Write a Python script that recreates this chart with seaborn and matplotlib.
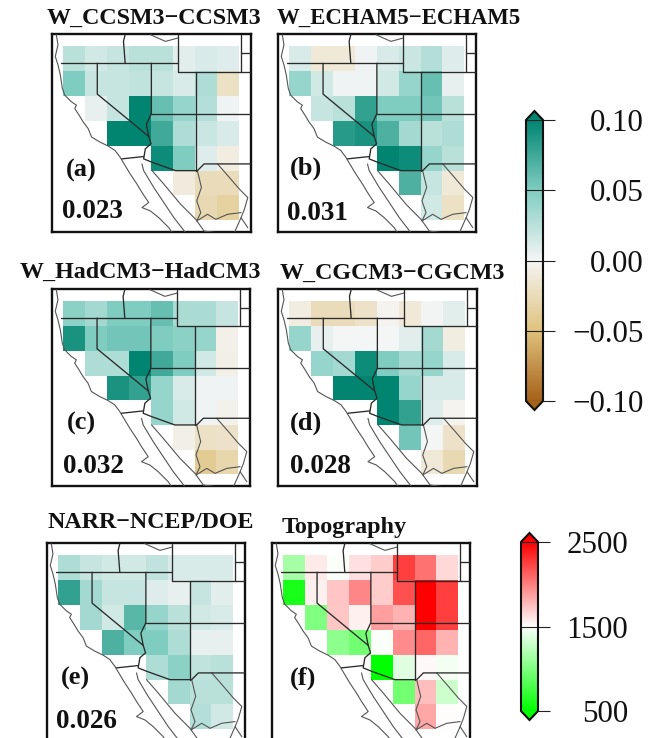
import numpy as np
import matplotlib
matplotlib.use('Agg')
import matplotlib.pyplot as plt
import seaborn as sns
from matplotlib.cm import ScalarMappable
from matplotlib.colors import LinearSegmentedColormap, Normalize

sns.set_theme(style='white')
plt.rcParams['font.family'] = ['Liberation Serif', 'DejaVu Serif']

W, H = 654, 738
n = np.nan

# grid values, 7 rows x 8 columns, north to south
ccsm3 = [[0.025, 0.015, 0.020, 0.025, 0.025, 0.008, 0.012, 0.010],
         [0.050, 0.020, 0.020, 0.022, 0.020, 0.012, 0.030, -0.020],
         [n, 0.006, 0.020, 0.100, 0.060, 0.040, 0.028, 0.002],
         [n, n, 0.100, 0.100, 0.075, 0.030, 0.018, 0.012],
         [n, n, n, n, 0.095, 0.050, 0.010, -0.008],
         [n, n, n, n, n, -0.010, -0.025, -0.025],
         [n, n, n, n, n, n, -0.028, -0.035]]
echam5 = [[0.012, -0.012, -0.012, 0.002, 0.012, 0.018, 0.028, 0.010],
          [0.040, 0.015, 0.002, 0.002, 0.015, 0.040, 0.060, 0.006],
          [n, 0.020, 0.025, 0.080, 0.050, 0.050, 0.055, 0.025],
          [n, n, 0.085, 0.090, 0.070, 0.035, 0.025, 0.030],
          [n, n, n, n, 0.100, 0.095, 0.040, 0.025],
          [n, n, n, n, n, 0.070, 0.020, -0.012],
          [n, n, n, n, n, n, 0.015, -0.020]]
hadcm3 = [[0.045, 0.035, 0.050, 0.050, 0.060, 0.032, 0.032, 0.020],
          [0.090, 0.050, 0.055, 0.055, 0.050, 0.045, 0.040, -0.005],
          [n, 0.030, 0.030, 0.100, 0.075, 0.050, 0.015, -0.006],
          [n, n, 0.090, 0.080, 0.040, 0.012, 0.002, 0.002],
          [n, n, n, n, 0.040, 0.015, 0.002, -0.004],
          [n, n, n, n, n, -0.006, -0.020, -0.018],
          [n, n, n, n, n, n, -0.040, -0.030]]
cgcm3 = [[-0.008, -0.025, -0.025, -0.018, -0.002, -0.012, 0.001, 0.008],
         [0.040, 0.006, 0.000, 0.000, 0.000, 0.008, 0.035, -0.008],
         [n, 0.040, 0.035, 0.095, 0.050, 0.035, 0.040, 0.012],
         [n, n, 0.100, 0.100, 0.100, 0.040, 0.012, 0.012],
         [n, n, n, n, 0.100, 0.080, 0.010, -0.002],
         [n, n, n, n, n, 0.055, 0.000, -0.018],
         [n, n, n, n, n, n, -0.012, -0.028]]
narr = [[0.030, 0.020, 0.015, 0.015, 0.022, 0.012, 0.012, 0.012],
        [0.080, 0.035, 0.020, 0.020, 0.010, 0.006, 0.020, 0.008],
        [n, 0.035, 0.015, 0.065, 0.040, 0.025, 0.015, 0.012],
        [n, n, 0.070, 0.050, 0.050, 0.030, 0.006, 0.006],
        [n, n, n, n, 0.030, 0.045, 0.022, 0.025],
        [n, n, n, n, n, 0.035, 0.025, 0.025],
        [n, n, n, n, n, n, 0.028, 0.015]]
topo = [[1150, 1580, 1480, 1620, 1700, 2250, 2050, 1650],
        [600, 1560, 1730, 1970, 1700, 2180, 2500, 2250],
        [n, 1000, 1720, 1560, 1880, 1800, 2500, 2250],
        [n, n, 1050, 950, 1480, 1950, 2100, 1800],
        [n, n, n, n, 500, 1380, 1530, 1450],
        [n, n, n, n, n, 950, 1750, 1300],
        [n, n, n, n, n, n, 1850, 1510]]

titles = ['W_CCSM3\u2212CCSM3', 'W_ECHAM5\u2212ECHAM5', 'W_HadCM3\u2212HadCM3',
          'W_CGCM3\u2212CGCM3', 'NARR\u2212NCEP/DOE', 'Topography']
letters = ['(a)', '(b)', '(c)', '(d)', '(e)', '(f)']
scores = ['0.023', '0.031', '0.032', '0.028', '0.026', '']
fields = [ccsm3, echam5, hadcm3, cgcm3, narr, topo]

# panel boxes in pixels: left, top, right, bottom
boxes = [(52, 34, 251, 232), (278, 34, 476, 232), (52, 289, 250, 486),
         (278, 289, 477, 486), (47, 543, 245, 741), (272, 543, 470, 741)]
title_pos = [(47, 18), (277, 18), (20, 272), (280, 273), (48, 522), (282, 527)]
title_size = [17.3, 16.4, 17.3, 17.3, 17.3, 17.4]
letter_pos = [(66, 170), (290, 168), (67, 423), (290, 423), (61, 678), (290, 678)]
score_pos = [(62, 212), (287, 213), (63, 467), (290, 467), (56, 721), (0, 0)]

# map outlines
coast = [
    [(50, 105), (55, 135), (47, 170), (55, 195), (62, 225), (68, 265), (75, 285), (95, 305),
     (110, 315), (105, 325), (118, 345), (130, 365), (145, 385), (155, 410), (180, 425),
     (205, 437), (225, 450), (240, 470), (255, 495), (270, 520), (290, 550), (305, 575),
     (325, 605), (305, 620), (330, 630), (355, 650), (385, 680), (395, 695)],
    [(305, 490), (310, 510), (340, 560), (360, 590), (400, 650), (435, 695)],
    [(335, 510), (370, 550), (420, 610), (465, 655), (490, 690), (530, 695)],
    [(530, 490), (565, 530), (595, 565), (620, 590), (610, 625), (600, 650), (620, 680)],
    [(470, 510), (482, 560), (468, 600), (480, 635), (468, 660), (500, 640), (525, 655),
     (560, 640), (600, 635)],
    [(600, 650), (580, 695)],
    [(330, 105), (375, 125), (412, 115)],
]
borders = [
    [(65, 190), (412, 190)],
    [(255, 105), (250, 125), (255, 190)],
    [(412, 105), (412, 215), (632, 215)],
    [(600, 105), (600, 215)],
    [(600, 160), (632, 160)],
    [(172, 190), (172, 282), (325, 408)],
    [(333, 190), (333, 340), (318, 372), (325, 408), (332, 430), (315, 445), (310, 475),
     (335, 485), (405, 510), (470, 510), (490, 490), (632, 490)],
    [(333, 340), (632, 340)],
    [(465, 215), (465, 510)],
    [(245, 475), (310, 468)],
]


def trace_to_cells(line):
    pts = np.array(line, dtype=float)
    return (pts[:, 0] - 70) / 65.6, (pts[:, 1] - 140) / 74.0


def axes_from_px(left, top, right, bottom):
    return fig.add_axes([left / W, 1 - bottom / H, (right - left) / W, (bottom - top) / H])


brbg = LinearSegmentedColormap.from_list(
    'brbg5', ['#a6611a', '#dfc27d', '#f5f5f5', '#80cdc1', '#018571'])
gwr = LinearSegmentedColormap.from_list('gwr', ['#00ff00', '#ffffff', '#ff0000'])

fig = plt.figure(figsize=(W / 100, H / 100), dpi=100)

for i, field in enumerate(fields):
    ax = axes_from_px(*boxes[i])
    is_topo = field is topo
    sns.heatmap(np.array(field, dtype=float), ax=ax, cbar=False, xticklabels=False,
                yticklabels=False, cmap=gwr if is_topo else brbg,
                vmin=500 if is_topo else -0.1, vmax=2500 if is_topo else 0.1)
    for line in coast:
        ax.plot(*trace_to_cells(line), color='#555555', lw=0.8, zorder=3)
    for line in borders:
        ax.plot(*trace_to_cells(line), color='#2a2a2a', lw=0.95, zorder=4)
    ax.set_xlim(-0.5, 8.53)
    ax.set_ylim(7.47, -0.5)
    for sp in ax.spines.values():
        sp.set_visible(True)
        sp.set_color('#111111')
        sp.set_linewidth(1.7)

    fig.text(title_pos[i][0] / W, 1 - title_pos[i][1] / H, titles[i], fontsize=title_size[i],
             fontweight='bold', va='center', ha='left', color='#111111')
    fig.text(letter_pos[i][0] / W, 1 - letter_pos[i][1] / H, letters[i], fontsize=19,
             fontweight='bold', va='center', ha='left', color='#111111')
    if scores[i]:
        fig.text(score_pos[i][0] / W, 1 - score_pos[i][1] / H, scores[i], fontsize=19.5,
                 fontweight='bold', va='center', ha='left', color='#111111')


def add_bar(box, cmap, vmin, vmax, ticks, labels, frac, label_x):
    cax = axes_from_px(*box)
    sm = ScalarMappable(norm=Normalize(vmin, vmax), cmap=cmap)
    cb = fig.colorbar(sm, cax=cax, extend='both', extendfrac=frac, extendrect=False)
    cb.outline.set_linewidth(1.5)
    cb.outline.set_edgecolor('#111111')
    cb.set_ticks(ticks)
    cb.minorticks_off()
    tick_len = 8.6
    pad = (label_x - box[2]) * 0.72 - tick_len
    cb.ax.tick_params(length=tick_len, width=0.8, color='#222222', pad=pad)
    cb.ax.set_yticklabels(labels, ha='right', fontsize=22.3, color='#111111')
    for t in ticks:
        cb.ax.axhline(t, color='#222222', lw=0.8)


add_bar((526, 111, 543, 410), brbg, -0.1, 0.1, [-0.1, -0.05, 0.0, 0.05, 0.1],
        ['\u22120.10', '\u22120.05', '0.00', '0.05', '0.10'], 0.032, 644)
add_bar((521, 533, 538, 720), gwr, 500, 2500, [500, 1500, 2500],
        ['500', '1500', '2500'], 0.053, 628)

fig.savefig('out.png', dpi=100)
